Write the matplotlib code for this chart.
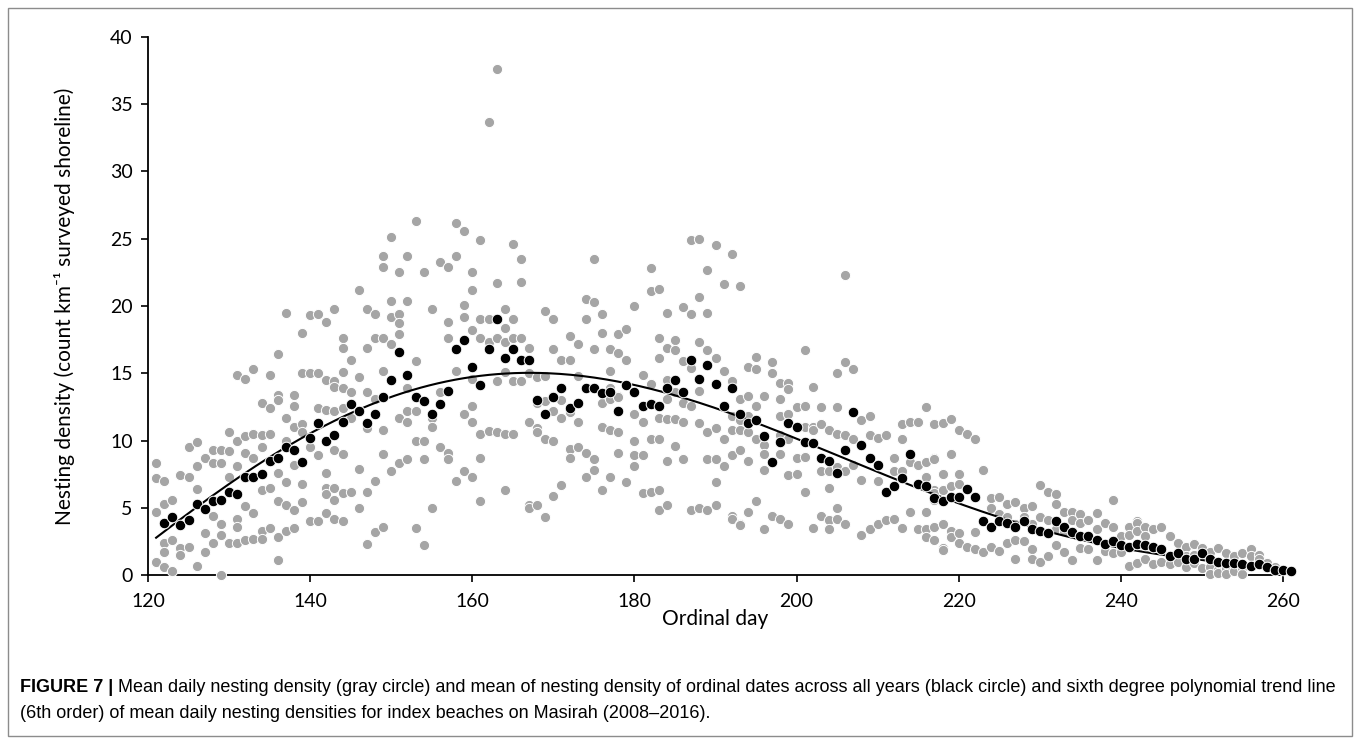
import numpy as np
import matplotlib
matplotlib.use("Agg")
import matplotlib.pyplot as plt
from matplotlib.patches import Rectangle
from numpy.polynomial import Polynomial

# gray circles: mean daily nesting density per year, one list per ordinal day (121..260)
gray_days = list(range(121, 261))
gray_vals = [
    [8.3, 7.2, 4.7, 1.0], [7.0, 5.3, 2.4, 1.7, 0.6], [5.6, 2.6, 0.3], [7.4, 2.0, 1.5],
    [9.5, 7.3, 2.1], [9.9, 8.1, 6.4, 0.7], [8.7, 3.1, 1.7], [9.3, 8.3, 4.4, 2.4],
    [9.3, 8.3, 3.8, 3.0, 0.0], [10.6, 9.2, 7.3, 2.4],                                   # 121-130
    [14.9, 10.0, 8.1, 4.2, 3.6, 2.4], [14.6, 10.3, 9.1, 5.1, 2.6], [15.3, 10.5, 8.7, 4.6, 2.7],
    [12.8, 10.4, 9.5, 6.3, 3.3, 2.7], [14.9, 12.4, 10.5, 6.5, 3.5],
    [16.4, 13.4, 13.0, 7.6, 5.5, 2.85, 1.1], [19.5, 11.7, 10.0, 6.9, 5.2, 3.3],
    [13.4, 12.6, 11.0, 8.2, 4.8, 3.5], [18.0, 15.0, 11.2, 10.6, 6.8, 5.4], [19.3, 15.0, 9.5, 4.0],  # 131-140
    [19.4, 15.0, 12.4, 8.9, 4.0], [18.8, 14.5, 12.3, 7.6, 6.5, 6.0, 4.6],
    [19.8, 14.4, 14.0, 12.2, 9.3, 6.5, 5.6, 4.2], [17.6, 16.9, 15.1, 13.9, 12.4, 9.0, 6.1, 4.0],
    [16.0, 13.6, 11.7, 6.2], [21.2, 14.7, 12.2, 7.9, 5.0], [19.8, 16.9, 13.6, 10.9, 6.2, 2.3],
    [19.4, 17.6, 13.1, 7.0, 3.2], [23.7, 22.9, 17.6, 15.2, 10.8, 9.0, 3.6],
    [25.1, 20.4, 19.2, 17.2, 7.7],                                                      # 141-150
    [22.5, 19.4, 18.7, 17.9, 11.7, 8.3], [23.7, 20.4, 13.9, 12.2, 11.4, 8.6],
    [26.3, 15.9, 12.2, 10.0, 3.5], [22.5, 10.0, 8.6, 2.2], [19.8, 11.7, 11.0, 5.0],
    [23.3, 13.6, 9.5], [22.9, 18.8, 17.6, 9.1, 8.6], [26.2, 23.7, 16.8, 15.2, 7.0],
    [25.6, 20.1, 19.2, 12.0, 7.7], [22.5, 21.2, 18.2, 14.6, 12.6, 11.4, 7.3],        # 151-160
    [24.9, 19.0, 17.6, 10.5, 8.7, 5.5], [33.7, 19.0, 17.3, 10.7], [37.6, 21.7, 17.6, 14.4, 10.6],
    [19.8, 18.4, 17.3, 15.1, 10.5, 6.3], [24.6, 19.0, 17.6, 14.4, 10.5], [23.5, 21.8, 17.6, 14.4],
    [16.9, 16.0, 15.0, 11.4, 5.2, 5.0], [14.7, 12.8, 10.9, 10.6, 5.2],
    [19.6, 14.8, 12.9, 10.1, 4.3], [19.0, 16.8, 13.3, 12.2, 10.0, 5.9],               # 161-170
    [16.0, 13.0, 11.7, 6.7], [17.8, 16.0, 12.1, 9.4, 8.7], [17.2, 14.8, 11.4, 9.5],
    [20.5, 19.0, 9.1, 7.3], [23.5, 20.3, 16.8, 8.6, 7.8], [19.4, 18.0, 12.8, 11.0, 6.3],
    [16.8, 15.2, 13.9, 13.1, 10.8, 7.3], [17.9, 16.5, 13.3, 13.2, 10.6, 9.1],
    [18.3, 16.0, 6.9], [20.0, 12.0, 10.0, 8.9, 8.1],                                   # 171-180
    [14.9, 11.4, 11.4, 8.9, 6.1], [22.8, 21.1, 14.2, 10.1, 6.2],
    [21.3, 17.6, 16.1, 11.7, 10.1, 6.3, 4.8], [19.5, 16.9, 14.5, 13.1, 11.6, 8.5, 5.2],
    [17.5, 16.7, 13.6, 11.6, 9.6], [19.9, 15.9, 12.8, 11.4, 8.6], [24.9, 19.4, 15.4, 12.6, 4.8],
    [25.0, 20.7, 17.3, 13.7, 11.3, 5.0], [22.7, 19.5, 16.7, 10.6, 8.6, 4.8],
    [24.5, 16.1, 10.9, 8.6, 6.9, 5.2],                                                  # 181-190
    [21.6, 15.2, 10.1, 8.1], [23.9, 14.4, 11.8, 10.8, 8.9, 4.4, 4.2],
    [21.5, 13.1, 11.5, 10.8, 9.3, 3.8, 3.7], [15.5, 13.3, 11.8, 10.6, 8.5, 4.7],
    [16.2, 15.3, 12.6, 10.1, 5.5], [13.3, 9.7, 9.0, 7.8, 3.4], [15.8, 15.0, 4.4],
    [14.3, 13.1, 11.8, 10.4, 9.0, 4.2], [14.3, 13.8, 12.0, 10.1, 7.4, 3.8], [12.5, 8.7, 7.5],  # 191-200
    [16.7, 12.6, 11.0, 8.8, 6.2], [14.0, 11.0, 10.8, 3.5], [12.5, 11.2, 7.7, 4.4],
    [10.8, 7.7, 6.5, 4.1, 3.4], [15.0, 12.5, 10.5, 8.0, 5.0, 4.2], [22.3, 15.8, 10.4, 7.7, 3.8],
    [15.3, 10.1, 8.2], [11.5, 7.1, 3.0], [11.8, 10.4, 3.4], [10.2, 7.0, 3.8],         # 201-210
    [10.4, 4.1], [8.7, 7.7, 4.2], [11.2, 10.1, 7.7, 3.5], [11.4, 8.4, 4.7], [11.4, 8.2, 3.4],
    [12.5, 8.4, 7.3, 4.7, 3.4, 2.8], [11.2, 8.7, 8.6, 6.3, 6.1, 5.6, 3.6, 2.6],
    [11.3, 7.5, 6.3, 3.8, 2.0, 1.85], [11.6, 9.0, 6.6, 3.3, 2.8], [10.8, 7.5, 6.8, 3.1, 2.4],  # 211-220
    [10.5, 2.1], [10.1, 3.2, 1.9], [7.8, 1.7], [5.7, 5.0, 2.1], [5.8, 4.5, 1.8],
    [5.3, 4.3, 2.4], [5.4, 3.8, 2.6, 1.2], [5.0, 4.3, 2.5], [5.1, 3.8, 1.9, 1.2], [6.7, 4.3, 1.0],  # 221-230
    [6.2, 4.1, 1.4], [6.0, 5.3, 3.4, 2.2], [4.7, 3.3, 1.7], [4.7, 4.1, 1.1], [4.5, 3.9, 2.0],
    [4.1, 1.9], [4.6, 3.4, 1.1], [3.9, 1.8], [5.6, 3.6, 1.6], [2.9, 1.7],             # 231-240
    [3.6, 3.0, 0.7], [4.0, 3.9, 3.3, 0.9], [3.6, 2.9, 1.2], [3.4, 0.8], [3.6, 1.0],
    [2.9, 0.8], [2.4, 1.0], [2.1, 1.4, 0.6], [2.3, 1.5, 0.9], [2.0, 0.5],             # 241-250
    [1.7, 0.6, 0.05], [2.0, 0.4, 0.15], [1.6, 0.5, 0.05], [1.4, 0.3], [1.6, 0.5, 0.1],
    [1.9, 1.4], [1.5, 1.2], [0.9], [0.6], [0.4],                                       # 251-260
]

# black circles: mean over all years for each ordinal day
mean_days = list(range(122, 262))
mean_vals = [
    3.9, 4.3, 3.7, 4.1, 5.3, 4.9, 5.5, 5.6, 6.2, 6.0,
    7.3, 7.3, 7.5, 8.5, 8.7, 9.5, 9.3, 8.4, 10.2, 11.3,
    10.0, 10.4, 11.4, 12.7, 12.2, 11.3, 12.0, 13.2, 14.5, 16.6,
    14.9, 13.2, 12.9, 12.0, 12.7, 13.7, 16.8, 17.5, 15.5, 14.1,
    16.8, 19.0, 16.1, 16.8, 16.0, 16.0, 13.0, 12.0, 13.2, 13.9,
    12.4, 12.8, 13.9, 13.9, 13.5, 13.6, 12.2, 14.1, 13.6, 12.6,
    12.7, 12.6, 13.9, 14.5, 13.6, 16.0, 14.6, 15.6, 14.2, 12.6,
    13.9, 12.0, 11.3, 11.5, 10.3, 8.4, 9.9, 11.3, 11.0, 9.9,
    9.8, 8.7, 8.5, 7.6, 9.3, 12.1, 9.7, 8.7, 8.2, 6.2,
    6.6, 7.2, 9.0, 6.8, 6.6, 5.7, 5.5, 5.8, 5.8, 6.4,
    5.8, 4.0, 3.6, 4.0, 3.9, 3.6, 4.0, 3.4, 3.3, 3.1,
    4.0, 3.6, 3.2, 2.9, 2.9, 2.6, 2.3, 2.5, 2.2, 2.1,
    2.3, 2.2, 2.1, 1.9, 1.4, 1.6, 1.2, 1.2, 1.6, 1.2,
    1.0, 0.9, 0.9, 0.8, 0.7, 0.8, 0.6, 0.4, 0.4, 0.3,
]

trend_days = [121, 130, 140, 150, 160, 170, 180, 190, 200, 210, 220, 230, 240, 250, 261]
trend_vals = [2.8, 6.7, 10.5, 13.4, 14.7, 14.9, 14.0, 12.6, 10.1, 7.7, 5.3, 3.3, 2.1, 1.1, 0.3]

x_ticks = [120, 140, 160, 180, 200, 220, 240, 260]
y_ticks = [0, 5, 10, 15, 20, 25, 30, 35, 40]

caption_bold = "FIGURE 7 |"
caption_1 = (" Mean daily nesting density (gray circle) and mean of nesting density of ordinal dates "
             "across all years (black circle) and sixth degree polynomial trend line")
caption_2 = "(6th order) of mean daily nesting densities for index beaches on Masirah (2008\u20132016)."

gx = np.concatenate([[d] * len(v) for d, v in zip(gray_days, gray_vals)])
gy = np.concatenate([np.asarray(v, float) for v in gray_vals])

trend = Polynomial.fit(trend_days, trend_vals, 6)
tx = np.linspace(trend_days[0], trend_days[-1], 400)

W, H = 1360, 740
fig = plt.figure(figsize=(W / 100, H / 100), dpi=100)
fig.patch.set_facecolor("white")

ax_l, ax_r, ax_t, ax_b = 148, 1283, 37, 575
ax = fig.add_axes([ax_l / W, 1 - ax_b / H, (ax_r - ax_l) / W, (ax_b - ax_t) / H])

ax.scatter(gx, gy, s=54, c="#a5a5a5", edgecolors="white", linewidths=0.7, zorder=2, clip_on=False)
ax.plot(tx, trend(tx), color="black", lw=1.5, zorder=3)
ax.scatter(mean_days, mean_vals, s=58, c="black", edgecolors="white", linewidths=0.7, zorder=4,
           clip_on=False)

ax.set_xlim(120, 260)
ax.set_ylim(0, 40)
ax.set_xticks(x_ticks)
ax.set_yticks(y_ticks)

tick_font = ["Lato", "DejaVu Sans"]
for lab in ax.get_xticklabels() + ax.get_yticklabels():
    lab.set_family(tick_font)
    lab.set_fontsize(14)
ax.tick_params(axis="both", direction="out", length=5, width=1.2, color="black")
ax.tick_params(axis="x", pad=8)
ax.tick_params(axis="y", pad=6)

for s in ["top", "right"]:
    ax.spines[s].set_visible(False)
for s in ["left", "bottom"]:
    ax.spines[s].set_linewidth(1.3)
    ax.spines[s].set_zorder(1)

ax.set_xlabel("Ordinal day", family=tick_font, fontsize=15, labelpad=-1)
ax.set_ylabel("Nesting density (count km\u207b\u00b9 surveyed shoreline)", family=tick_font,
              fontsize=15, labelpad=25)

# caption, sized so the first line runs across the frame
cap_font = ["Liberation Sans", "DejaVu Sans"]
cap_left, cap_right = 20, 1336
renderer = fig.canvas.get_renderer()
t1 = fig.text(cap_left / W, 1 - 692 / H, caption_bold, family=cap_font, fontsize=10, weight="bold",
              va="baseline", ha="left")
t2 = fig.text(0, 1 - 692 / H, caption_1, family=cap_font, fontsize=10, va="baseline", ha="left")
w_line = t1.get_window_extent(renderer).width + t2.get_window_extent(renderer).width
size = 10 * (cap_right - cap_left) / w_line
t1.set_fontsize(size)
t2.set_fontsize(size)
t2.set_x((cap_left + t1.get_window_extent(renderer).width) / W)
fig.text(cap_left / W, 1 - 718 / H, caption_2, family=cap_font, fontsize=size, va="baseline",
         ha="left")

# figure frame
fig.patches.append(Rectangle((8 / W, 4 / H), (W - 16) / W, (H - 12) / H, transform=fig.transFigure,
                             fill=False, edgecolor="#8c8c8c", lw=1.0))

fig.savefig("out.png", dpi=100, facecolor="white")
